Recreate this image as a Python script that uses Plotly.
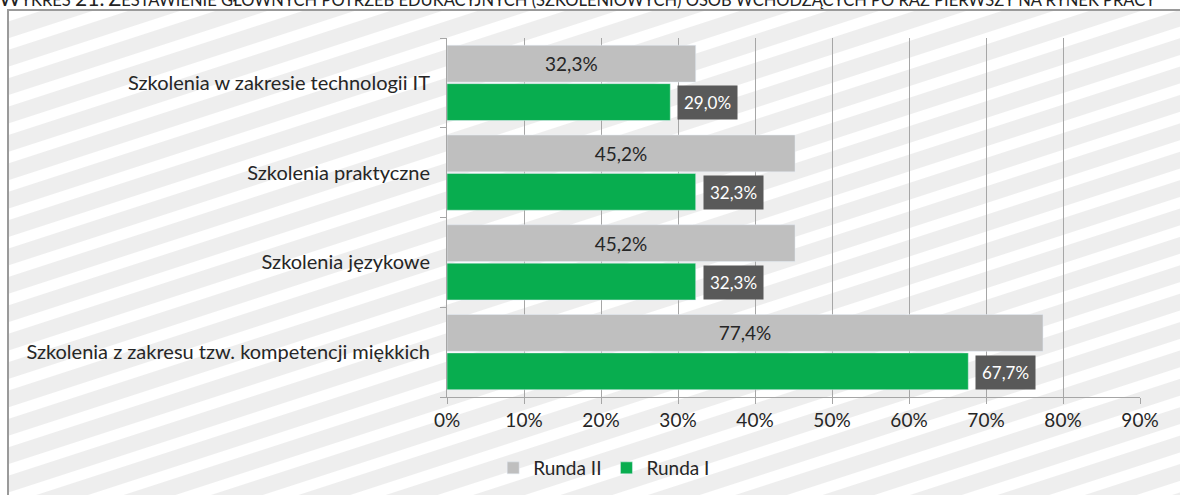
import base64
import plotly.graph_objects as go

# ---- data ----
categories = [
    "Szkolenia z zakresu tzw. kompetencji miękkich",
    "Szkolenia językowe",
    "Szkolenia praktyczne",
    "Szkolenia w zakresie technologii IT",
]
runda_II = [77.4, 45.2, 45.2, 32.3]
runda_I = [67.7, 32.3, 32.3, 29.0]
x_ticks = [0, 10, 20, 30, 40, 50, 60, 70, 80, 90]
x_tick_labels = [f"{t}%" for t in x_ticks]
series_names = ["Runda I", "Runda II"]

title_text = "WYKRES 21. ZESTAWIENIE GŁÓWNYCH POTRZEB EDUKACYJNYCH (SZKOLENIOWYCH) OSÓB WCHODZĄCYCH PO RAZ PIERWSZY NA RYNEK PRACY"

# ---- layout geometry (pixels) ----
W, H = 1180, 495
L, R, T, B = 447, 40, 38, 98
PW, PH = W - L - R, H - T - B


def px(x):
    return (x - L) / PW


def py(y):
    return (H - B - y) / PH


def fmt(v):
    return f"{v:.1f}%".replace(".", ",")


def small_caps(text, big=21, small=16.5):
    out = []
    big_first = {"WYKRES", "21.", "ZESTAWIENIE"}
    for w in text.split(" "):
        if w in big_first:
            if w == "21.":
                out.append(f"<span style='font-size:{big}px'>{w}</span>")
            else:
                out.append(f"<span style='font-size:{big}px'>{w[0]}</span>"
                           f"<span style='font-size:{small}px'>{w[1:]}</span>")
        else:
            out.append(f"<span style='font-size:{small}px'>{w}</span>")
    return " ".join(out)


# striped background as svg image
fw, fh = W - 8, H - 10
svg = (
    f"<svg xmlns='http://www.w3.org/2000/svg' width='{fw}' height='{fh}'>"
    "<defs><pattern id='p' patternUnits='userSpaceOnUse' width='40' height='27' "
    "patternTransform='rotate(-18)'>"
    "<rect x='0' y='0' width='40' height='11' fill='#ffffff'/></pattern></defs>"
    f"<rect width='{fw}' height='{fh}' fill='#eeeeee'/>"
    f"<rect width='{fw}' height='{fh}' fill='url(#p)'/>"
    "</svg>"
)
svg_uri = "data:image/svg+xml;base64," + base64.b64encode(svg.encode()).decode()

fig = go.Figure()
fig.add_trace(go.Bar(
    y=categories, x=runda_I, orientation="h", name=series_names[0],
    marker=dict(color="#08ad4f"),
))
fig.add_trace(go.Bar(
    y=categories, x=runda_II, orientation="h", name=series_names[1],
    marker=dict(color="#bfbfbf"),
    text=[fmt(v) for v in runda_II], textposition="inside",
    insidetextanchor="middle",
    textfont=dict(family="Lato", size=19, color="#262626"),
))

annotations = []
for c, v in zip(categories, runda_I):
    annotations.append(dict(
        x=v, y=c, xref="x", yref="y", text=fmt(v), showarrow=False,
        xanchor="left", yanchor="middle", xshift=7, yshift=-20,
        bgcolor="#595959", borderpad=6,
        font=dict(family="Lato", size=17, color="#ffffff"),
    ))
annotations.append(dict(
    x=px(-3), y=py(12), xref="paper", yref="paper", text=small_caps(title_text),
    showarrow=False, xanchor="left", yanchor="bottom",
    font=dict(family="Lato", size=16.5, color="#222222"),
))

fig.update_layout(
    width=W, height=H,
    margin=dict(l=L, r=R, t=T, b=B, pad=0),
    paper_bgcolor="#ffffff",
    plot_bgcolor="rgba(0,0,0,0)",
    barmode="group", bargap=0.145, bargroupgap=0.04,
    font=dict(family="Lato", size=19, color="#262626"),
    showlegend=True,
    legend=dict(
        orientation="h", traceorder="reversed",
        xref="container", yref="container",
        x=0.512, xanchor="center", y=1 - 468 / H, yanchor="middle",
        font=dict(family="Lato", size=19, color="#262626"),
        bgcolor="rgba(0,0,0,0)", itemwidth=30,
    ),
    xaxis=dict(
        range=[0, 90], tickvals=x_ticks, ticktext=x_tick_labels,
        showgrid=True, gridcolor="#a6a6a6", gridwidth=1,
        showline=True, linecolor="#a6a6a6", linewidth=1,
        ticks="outside", ticklen=6, tickcolor="#a6a6a6",
        tickfont=dict(family="Lato", size=19, color="#262626"),
        zeroline=False, fixedrange=True,
    ),
    yaxis=dict(
        categoryorder="array", categoryarray=categories,
        showline=True, linecolor="#a6a6a6", linewidth=1,
        ticks="outside", ticklen=6, tickcolor="#a6a6a6", tickson="boundaries",
        tickfont=dict(family="Lato", size=20, color="#262626"),
        showgrid=False, zeroline=False, ticklabelstandoff=12,
    ),
    images=[dict(
        source=svg_uri, xref="paper", yref="paper",
        x=px(8), y=py(10), sizex=px(W) - px(8), sizey=py(10) - py(H),
        xanchor="left", yanchor="top", sizing="stretch", layer="below",
    )],
    shapes=[dict(
        type="path",
        path=f"M {px(8)} {py(H + 5)} L {px(8)} {py(10)} L {px(W + 5)} {py(10)}",
        xref="paper", yref="paper", line=dict(color="#9a9a9a", width=2),
        layer="below",
    )],
    annotations=annotations,
)

fig.write_html(
    "out.html",
    config={"displayModeBar": False},
    post_script="document.body.style.margin='0px';document.body.style.padding='0px';"
                "document.body.style.overflow='hidden';",
)
